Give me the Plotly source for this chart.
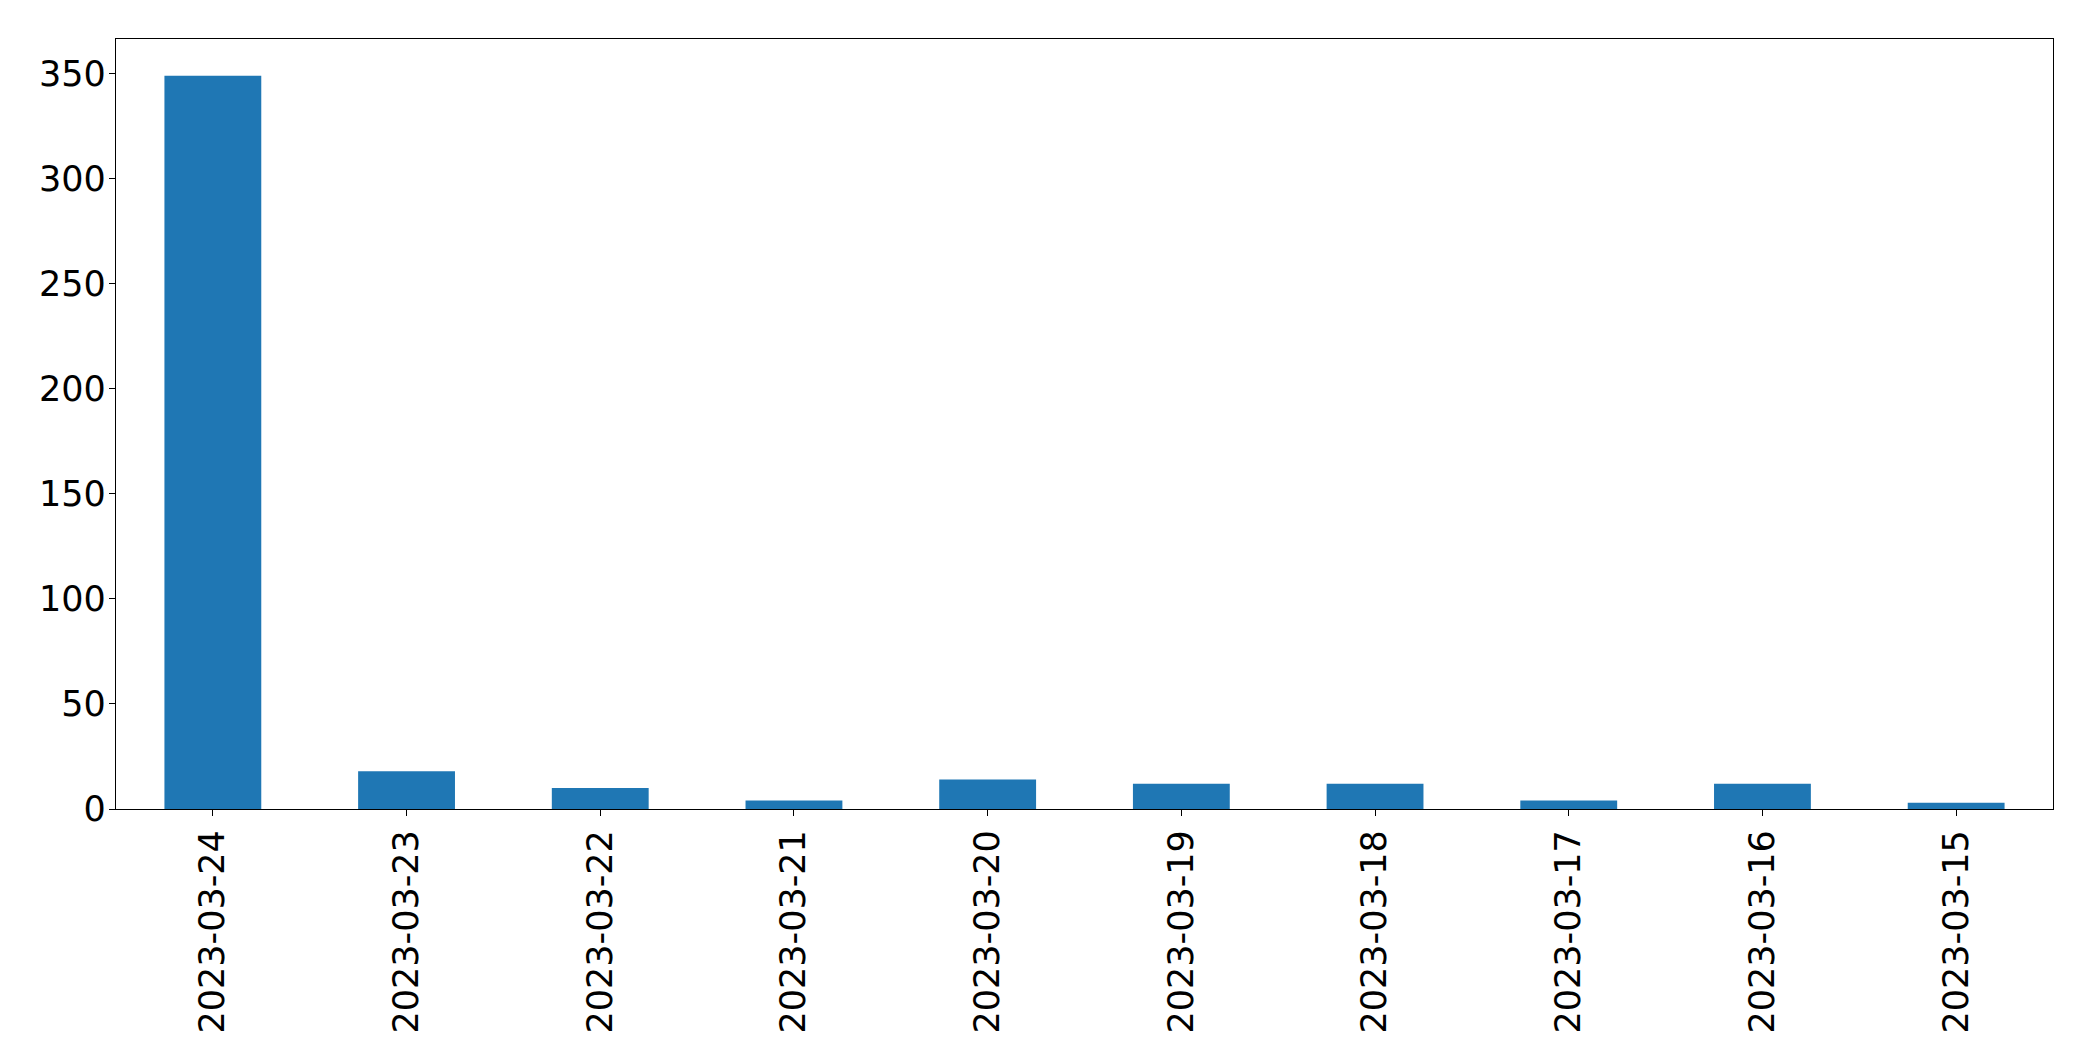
import plotly.graph_objects as go

dates = ["2023-03-24", "2023-03-23", "2023-03-22", "2023-03-21", "2023-03-20",
         "2023-03-19", "2023-03-18", "2023-03-17", "2023-03-16", "2023-03-15"]
counts = [349, 18, 10, 4, 14, 12, 12, 4, 12, 3]
y_ticks = [0, 50, 100, 150, 200, 250, 300, 350]

fig = go.Figure(go.Bar(x=dates, y=counts, marker=dict(color="#1f77b4", line=dict(width=0)),
                       width=0.5))

font = dict(family="DejaVu Sans", size=35, color="black")
fig.update_layout(
    width=2093, height=1061,
    margin=dict(l=108, r=48, t=31, b=260),
    paper_bgcolor="white", plot_bgcolor="white",
    showlegend=False,
    font=font,
)
fig.update_xaxes(type="category", range=[-0.5, 9.5], tickangle=-90,
                 showline=True, linecolor="black", linewidth=1.3, mirror=True,
                 ticks="outside", ticklen=6, tickwidth=1.3, tickcolor="black",
                 showgrid=False, zeroline=False, tickfont=font)
fig.update_yaxes(range=[0, max(counts) * 1.05], tickvals=y_ticks,
                 showline=True, linecolor="black", linewidth=1.3, mirror=True,
                 ticks="outside", ticklen=6, tickwidth=1.3, tickcolor="black",
                 ticklabelstandoff=-4,
                 showgrid=False, zeroline=False, tickfont=font)

fig.write_html("out.html")
